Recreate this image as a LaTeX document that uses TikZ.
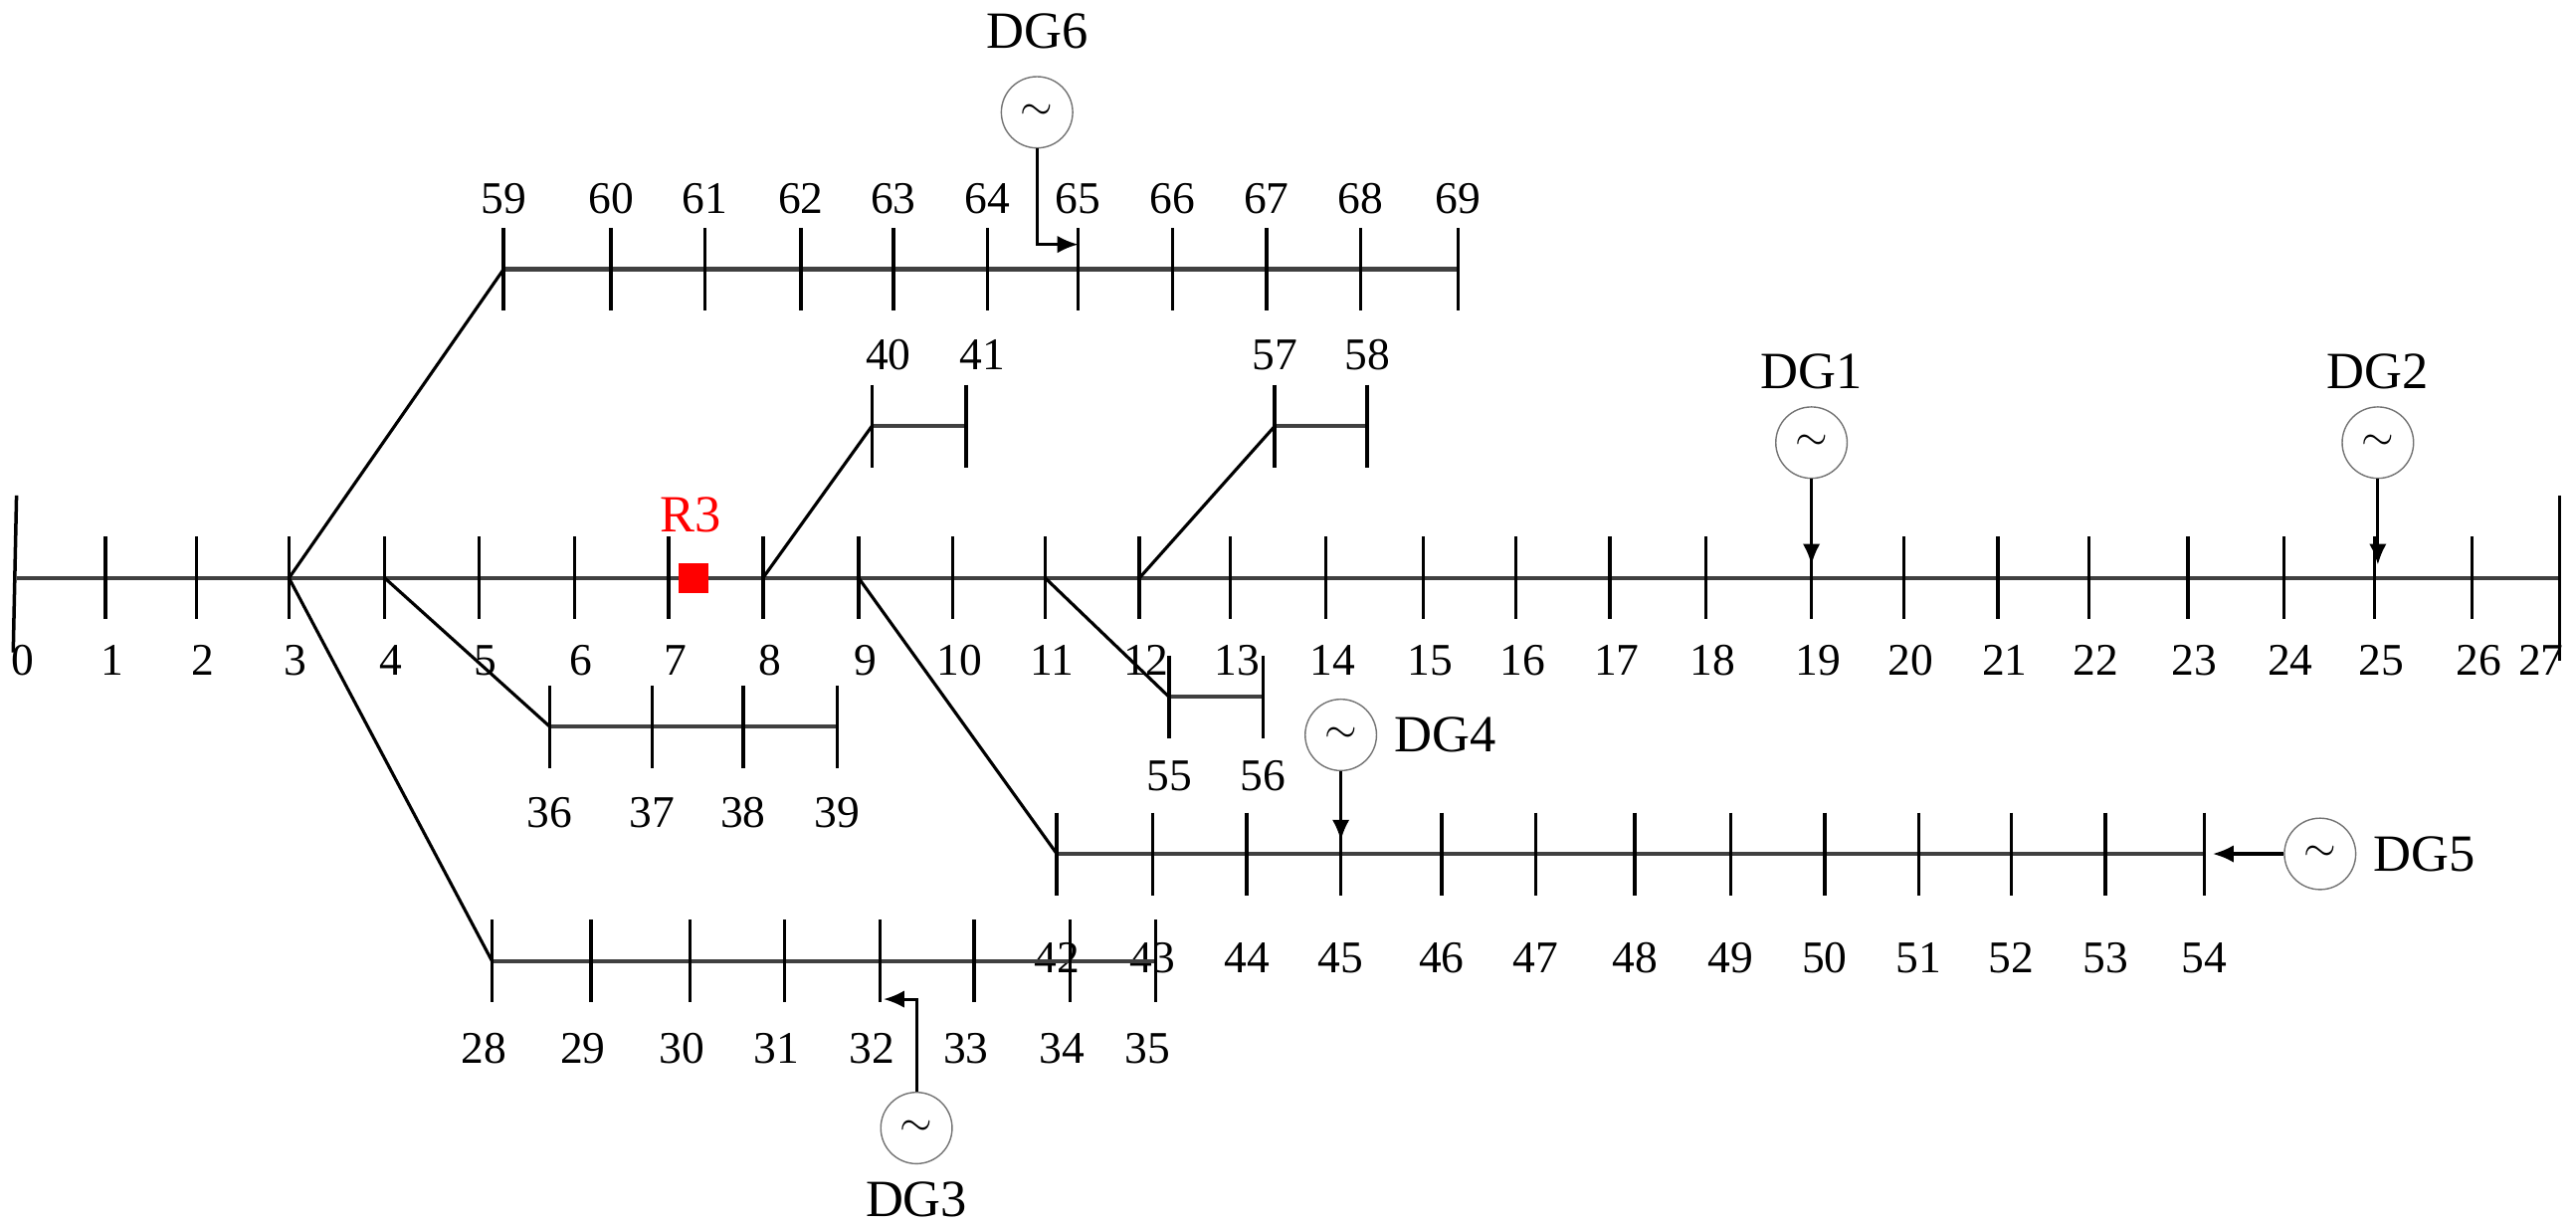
\documentclass[tikz,border=0pt]{standalone}
\usepackage{fontspec}
\setmainfont{Liberation Serif}
\usetikzlibrary{arrows.meta,positioning,calc}

\begin{document}
\begin{tikzpicture}[
            x=0.0166667cm, y=-0.0166667cm,
            line/.style={line width=1.2pt, black!75},
            feeder/.style={line width=0.9pt},
            tick/.style={line width=1pt},
            num/.style={font=\fontsize{13}{13}\selectfont},
            gen/.style={draw=black!55, circle, minimum size=0.72cm, inner sep=0pt, font=\large},
            dglabel/.style={font=\fontsize{15}{15}\selectfont},
            arrow/.style={-{Latex[length=6pt,width=5pt]}, line width=0.9pt}
        ]
            \useasboundingbox (0,0) rectangle (1560,741);

            % Main feeder
            \foreach \n/\x in {0/10,1/64,2/119,3/175,4/233,5/290,6/348,7/405,8/462,9/520,10/577,11/633,12/690,13/745,14/803,15/862,16/918,17/975,18/1033,19/1097,20/1153,21/1210,22/1265,23/1325,24/1383,25/1438,26/1497}
                {\coordinate (b\n) at (\x,350);
                 \node[num] at (\x+4,400) {\n};}
            \coordinate (b27) at (1550,350);
            \node[num, anchor=east] at (1560,400) {27};
            \foreach \n/\x in {28/298,29/358,30/418,31/475,32/533,33/590,34/648,35/700}
                {\coordinate (b\n) at (\x,582);
                 \node[num] at (\x-5,635) {\n};}
            \foreach \n/\x in {36/333,37/395,38/450,39/507}
                {\coordinate (b\n) at (\x,440);
                 \node[num] at (\x,492) {\n};}
            \foreach \n/\x in {40/528,41/585}
                {\coordinate (b\n) at (\x,258);
                 \node[num] at (\x+10,215) {\n};}
            \foreach \n/\x in {42/640,43/698,44/755,45/812,46/873,47/930,48/990,49/1048,50/1105,51/1162,52/1218,53/1275,54/1335}
                {\coordinate (b\n) at (\x,517);
                 \node[num] at (\x,580) {\n};}
            \foreach \n/\x in {55/708,56/765}
                {\coordinate (b\n) at (\x,422);
                 \node[num] at (\x,470) {\n};}
            \foreach \n/\x in {57/772,58/828}
                {\coordinate (b\n) at (\x,258);
                 \node[num] at (\x,215) {\n};}
            \foreach \n/\x in {59/305,60/370,61/427,62/485,63/541,64/598,65/653,66/710,67/767,68/824,69/883}
                {\coordinate (b\n) at (\x,163);
                 \node[num] at (\x,120) {\n};}

            % Bus lines
            \draw[line] (b0) -- (b27);
            \draw[line] (b28) -- (b35);
            \draw[line] (b36) -- (b39);
            \draw[line] (b40) -- (b41);
            \draw[line] (b42) -- (b54);
            \draw[line] (b55) -- (b56);
            \draw[line] (b57) -- (b58);
            \draw[line] (b59) -- (b69);

            % Laterals
            \draw[feeder] (b3) -- (b59);
            \draw[feeder] (b3) -- (b28);
            \draw[feeder] (b4) -- (b36);
            \draw[feeder] (b8) -- (b40);
            \draw[feeder] (b9) -- (b42);
            \draw[feeder] (b11) -- (b55);
            \draw[feeder] (b12) -- (b57);

            % Bus ticks
            \foreach \n in {1,...,26,28,29,...,69}
                \draw[tick] ($(b\n)+(0,-25)$) -- ($(b\n)+(0,25)$);
            \draw[tick] ($(b0)+(0,-50)$) -- ($(b0)+(-2,45)$);
            \draw[tick] ($(b27)+(0,-50)$) -- ($(b27)+(0,50)$);

            % Relay
            \node[fill=red, minimum size=0.3cm, inner sep=0pt] (r3) at (420,350) {};
            \node[text=red, dglabel] (r3lbl) at (418,312) {R3};

            % Generators
            \node[gen] (dg1) at (1097,268) {$\sim$};
            \node[dglabel, above=0.05cm of dg1] {DG1};
            \draw[arrow] (dg1) -- ($(b19)+(0,-8)$);

            \node[gen] (dg2) at (1440,268) {$\sim$};
            \node[dglabel, above=0.05cm of dg2] {DG2};
            \draw[arrow] (dg2) -- ($(b25)+(2,-8)$);

            \node[gen] (dg3) at (555,683) {$\sim$};
            \node[dglabel, below=0.05cm of dg3] {DG3};
            \coordinate (dg3t) at (555,605);
            \draw[arrow] (dg3) -- (dg3t) -- ($(b32)+(2,23)$);

            \node[gen] (dg4) at (812,445) {$\sim$};
            \node[dglabel, right=0.05cm of dg4] {DG4};
            \draw[arrow] (dg4) -- ($(b45)+(0,-8)$);

            \node[gen] (dg5) at (1405,517) {$\sim$};
            \node[dglabel, right=0.05cm of dg5] {DG5};
            \draw[arrow] (dg5) -- ($(b54)+(5,0)$);

            \node[gen] (dg6) at (628,68) {$\sim$};
            \node[dglabel, above=0.15cm of dg6] {DG6};
            \coordinate (dg6b) at (628,148);
            \draw[arrow] (dg6) -- (dg6b) -- ($(b65)+(0,-15)$);
        \end{tikzpicture}
\end{document}
